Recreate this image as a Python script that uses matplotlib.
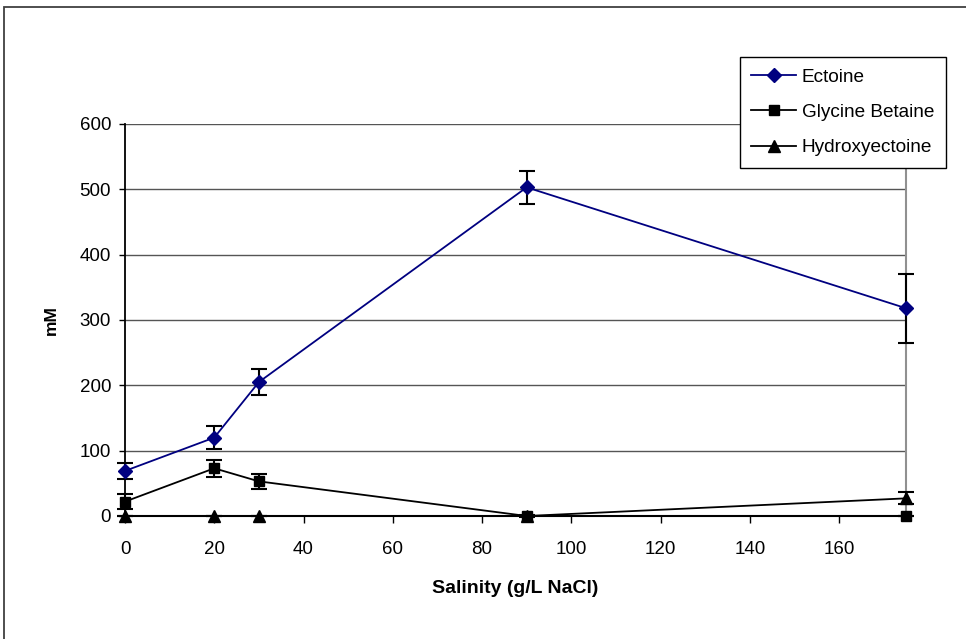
import matplotlib.pyplot as plt
from matplotlib.lines import Line2D
from matplotlib.patches import Rectangle

plt.rcParams['font.family'] = ['Liberation Sans', 'DejaVu Sans']

# Salinity levels (g/L NaCl)
salinity = [0, 20, 30, 90, 175]

# Compatible solute concentrations (mM) and error bar half-widths
ectoine = [69, 120, 205, 503, 318]
ectoine_err = [12, 18, 20, 25, 53]
glycine_betaine = [22, 73, 53, 0, 0]
glycine_betaine_err = [12, 13, 11, 2, 0]
hydroxyectoine = [0, 0, 0, 0, 27]
hydroxyectoine_err = [0, 0, 0, 0, 9]

series = [
    ('Ectoine', ectoine, ectoine_err, '#000080', 'D', 7.5),
    ('Glycine Betaine', glycine_betaine, glycine_betaine_err, 'black', 's', 7.5),
    ('Hydroxyectoine', hydroxyectoine, hydroxyectoine_err, 'black', '^', 8.5),
]

fig = plt.figure(figsize=(9.66, 6.39), dpi=100)
ax = fig.add_axes([0.1294, 0.1925, 0.8085, 0.6135])

# outer chart border (only left and top edges fall inside the image)
fig.patches.append(Rectangle((4 / 966, -0.1), 1.2, 1.1 - 7 / 639, transform=fig.transFigure,
                             fill=False, edgecolor='#404040', linewidth=1.3))

handles = []
for name, vals, errs, col, mk, ms in series:
    ax.errorbar(salinity, vals, yerr=errs, color=col, marker=mk, markersize=ms, linewidth=1.3,
                ecolor='black', elinewidth=1.5, capsize=6, capthick=1.5, clip_on=False, zorder=3)
    handles.append(Line2D([], [], color=col, marker=mk, markersize=ms, linewidth=1.3, label=name))

ax.set_xlim(0, 175)
ax.set_ylim(0, 600)
ax.set_xticks(range(0, 161, 20))
ax.set_yticks(range(0, 601, 100))
ax.tick_params(labelsize=13.5, direction='out', width=1, colors='black')
ax.tick_params(axis='y', length=4, pad=6)
ax.tick_params(axis='x', length=5, pad=13)

ax.yaxis.grid(True, color='#555555', linewidth=1)
ax.set_axisbelow(True)

ax.spines['top'].set_visible(False)
ax.spines['right'].set_color('#909090')
ax.spines['right'].set_linewidth(1.5)
ax.spines['left'].set_linewidth(1.3)
ax.spines['bottom'].set_linewidth(1.5)

ax.set_xlabel('Salinity (g/L NaCl)', fontsize=14, fontweight='bold', labelpad=16)
ax.set_ylabel('mM', fontsize=12.5, fontweight='bold', labelpad=15)

leg = ax.legend(handles=handles, loc='upper left', bbox_to_anchor=(615 / 781, 1 + 67 / 392),
                fontsize=13.7, frameon=True, fancybox=False, edgecolor='black', framealpha=1,
                handlelength=2.35, handletextpad=0.3, borderpad=0.6, labelspacing=0.95,
                borderaxespad=0)
leg.get_frame().set_linewidth(1)

plt.savefig('out.png', dpi=100)
